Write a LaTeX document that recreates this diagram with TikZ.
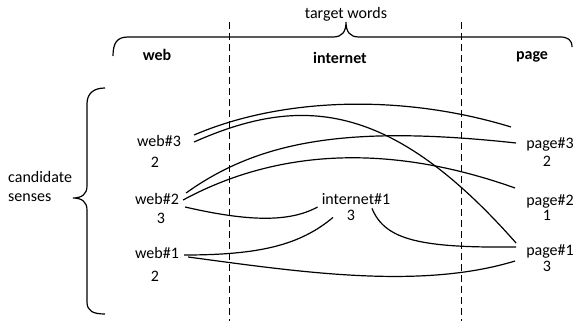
\documentclass[tikz,border=0pt]{standalone}
\usepackage{fontspec}
\setmainfont{Carlito}
\usetikzlibrary{calc}

\begin{document}
\begin{tikzpicture}[x=1pt, y=-1pt,
		sense/.style={font=\fontsize{16}{19}\selectfont, inner sep=0pt, text height=11pt, text depth=3.5pt},
		word/.style={sense, font=\fontsize{16}{19}\selectfont\bfseries},
		link/.style={line width=1.2pt},
		divider/.style={line width=1pt, dash pattern=on 7pt off 4pt},
		curly/.style={line width=1.2pt}]
			%%%%% START %%%%%
			\useasboundingbox (0, 0) rectangle (573, 321);
			
			\draw[divider] (229, 22) -- (229, 321);
			\draw[divider] (461, 22) -- (461, 321);
			
			% braces
			\draw[curly] (113, 56) .. controls (113, 43) and (117, 37) .. (128, 37) -- (333, 37)
				.. controls (342, 37) and (346, 32) .. (346, 22)
				.. controls (346, 32) and (350, 37) .. (359, 37) -- (560, 37)
				.. controls (568, 37) and (572, 40) .. (572, 47);
			\draw[curly] (105, 88) .. controls (93, 88) and (87, 94) .. (87, 104) -- (87, 186)
				.. controls (87, 194) and (82, 198) .. (73, 198)
				.. controls (82, 198) and (87, 202) .. (87, 210) -- (87, 302)
				.. controls (87, 311) and (93, 314) .. (105, 314);
			
			\node[sense] (tw) at (346, 15) {target words};
			\node[sense, align=left, anchor=west] (cs) at (8, 198) {candidate\\senses};
			
			\node[word] (web) at (157, 57) {web};
			\node[word] (int) at (340, 60) {internet};
			\node[word] (pag) at (532, 56) {page};
			
			% senses and scores
			\node[sense] (w3) at (159, 143) {web\#3};
			\node[sense] (w3n) at (155, 164) {2};
			\node[sense] (w2) at (157, 201) {web\#2};
			\node[sense] (w2n) at (161, 220) {3};
			\node[sense] (w1) at (157, 255) {web\#1};
			\node[sense] (w1n) at (155, 278) {2};
			
			\node[sense] (i1) at (356, 201) {internet\#1};
			\node[sense] (i1n) at (351, 217) {3};
			
			\node[sense] (p3) at (550, 145) {page\#3};
			\node[sense] (p3n) at (547, 163) {2};
			\node[sense] (p2) at (550, 202) {page\#2};
			\node[sense] (p2n) at (547, 217) {1};
			\node[sense] (p1) at (550, 252) {page\#1};
			\node[sense] (p1n) at (547, 268) {3};
			
			% web#3
			\draw[link] ($(w3.east)+(13,-8)$) .. controls (280, 98) and (400, 93) .. ($(p3.west)+(-15,-18)$);
			\draw[link] ($(w3.east)+(13,-1)$) .. controls (300, 95) and (390, 100) .. ($(p1.west)+(-10,-9)$);
			
			% web#2
			\draw[link] ($(w2.east)+(7,-8)$) .. controls (260, 140) and (350, 125) .. ($(p3.west)+(-10,-2)$);
			\draw[link] ($(w2.east)+(4,-1)$) .. controls (270, 153) and (380, 140) .. ($(p2.west)+(-11,-14)$);
			\draw[link] ($(w2.east)+(6,6)$) .. controls (250, 222) and (290, 222) .. ($(i1.west)+(-4,6)$);
			
			% web#1
			\draw[link] ($(w1.east)+(5,0)$) .. controls (260, 255) and (300, 245) .. ($(i1.south)+(-23,9)$);
			\draw[link] ($(w1.east)+(9,2)$) .. controls (300, 272) and (420, 290) .. ($(p1.west)+(-11,9)$);
			
			% internet#1
			\draw[link] ($(i1.south)+(16,0)$) .. controls (385, 240) and (420, 248) .. ($(p1.west)+(-10,-5)$);
			
			%%%%% END %%%%%
		\end{tikzpicture}
\end{document}
